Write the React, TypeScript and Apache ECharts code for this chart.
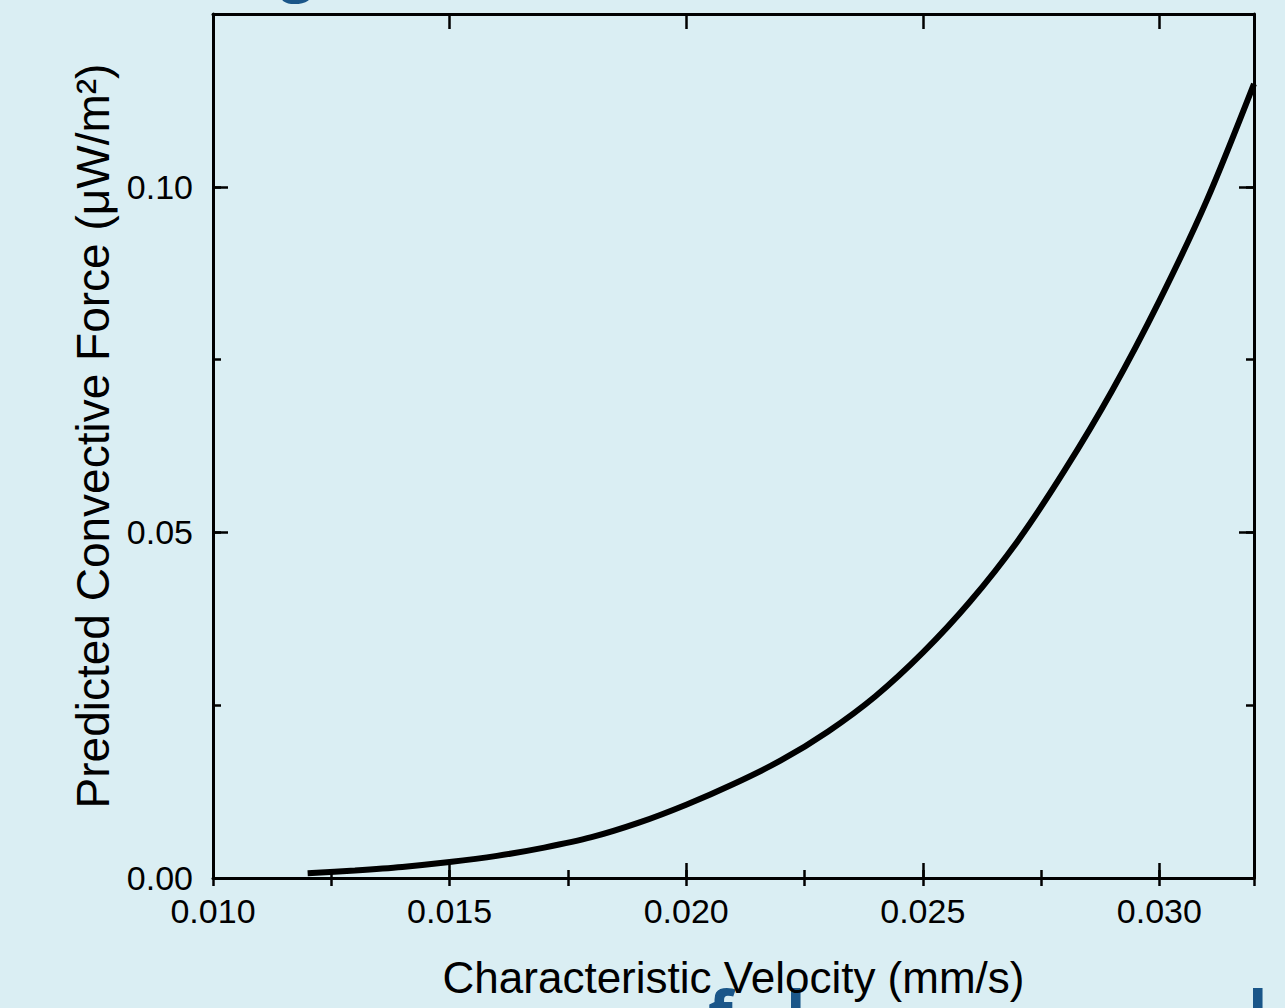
import React, { useEffect, useRef } from "react";
import * as echarts from "echarts";

// Characteristic velocity (mm/s)
const velocity = [
  0.012, 0.013, 0.014, 0.015, 0.016, 0.017, 0.018, 0.019, 0.020, 0.021, 0.022,
  0.023, 0.024, 0.025, 0.026, 0.027, 0.028, 0.029, 0.030, 0.031, 0.032,
];
// Predicted convective force (µW/m²)
const force = [
  0.0007, 0.0011, 0.0016, 0.0023, 0.0032, 0.0044, 0.0059, 0.0080, 0.0106,
  0.0136, 0.0170, 0.0212, 0.0263, 0.0326, 0.0400, 0.0487, 0.0590, 0.0705,
  0.0835, 0.0980, 0.1149,
];

const xTickValues = [0.01, 0.015, 0.02, 0.025, 0.03];
const xTickLabels = ["0.010", "0.015", "0.020", "0.025", "0.030"];
const yTickValues = [0, 0.05, 0.1];
const yTickLabels = ["0.00", "0.05", "0.10"];

const X_MIN = 0.01;
const X_MAX = 0.032;
const Y_MIN = 0;
const Y_MAX = 0.125;

const FONT = '"Liberation Sans", Arial, sans-serif';

function labelFor(values: number[], labels: string[]) {
  return (v: number) => {
    const i = values.findIndex((t) => Math.abs(t - v) < 1e-9);
    return i >= 0 ? labels[i] : "";
  };
}

export default function App() {
  const ref = useRef<HTMLDivElement>(null);

  useEffect(() => {
    if (!ref.current) return;
    const chart = echarts.init(ref.current, undefined, { renderer: "svg" });

    const frameLine = { show: true, onZero: false, lineStyle: { color: "#000", width: 3 } };
    const majorTick = { show: true, inside: true, length: 15, lineStyle: { color: "#000", width: 2.5 } };
    const minorTick = { show: true, inside: true, length: 8, lineStyle: { color: "#000", width: 2.5 } };

    const xBase = {
      type: "value" as const,
      gridIndex: 0,
      min: X_MIN,
      max: X_MAX,
      splitLine: { show: false },
    };
    const yBase = {
      type: "value" as const,
      gridIndex: 0,
      min: Y_MIN,
      max: Y_MAX,
      splitLine: { show: false },
    };

    chart.setOption({
      animation: false,
      backgroundColor: "#DAEEF3",
      grid: { left: 213, right: 31, top: 14, bottom: 130, containLabel: false },
      xAxis: [
        {
          ...xBase,
          position: "bottom",
          interval: 0.005,
          axisLine: frameLine,
          axisTick: majorTick,
          axisLabel: {
            show: true,
            color: "#000",
            fontSize: 34,
            fontFamily: FONT,
            margin: 16,
            formatter: labelFor(xTickValues, xTickLabels),
          },
          name: "Characteristic Velocity (mm/s)",
          nameLocation: "middle",
          nameGap: 77,
          nameTextStyle: { color: "#000", fontSize: 44, fontFamily: FONT },
        },
        {
          ...xBase,
          position: "bottom",
          interval: 0.0025,
          axisLine: { show: false },
          axisTick: minorTick,
          axisLabel: { show: false },
        },
        {
          ...xBase,
          position: "top",
          interval: 0.005,
          axisLine: frameLine,
          axisTick: majorTick,
          axisLabel: { show: false },
        },
        {
          ...xBase,
          position: "top",
          interval: 0.0025,
          axisLine: { show: false },
          axisTick: minorTick,
          axisLabel: { show: false },
        },
      ],
      yAxis: [
        {
          ...yBase,
          position: "left",
          interval: 0.05,
          axisLine: frameLine,
          axisTick: majorTick,
          axisLabel: {
            show: true,
            color: "#000",
            fontSize: 34,
            fontFamily: FONT,
            margin: 20,
            formatter: labelFor(yTickValues, yTickLabels),
          },
          name: "Predicted Convective Force (\u03bcW/m\u00b2)",
          nameLocation: "middle",
          nameGap: 96,
          nameTextStyle: {
            color: "#000",
            fontSize: 46,
            fontFamily: FONT,
            padding: [0, 0, 0, 20],
          },
        },
        {
          ...yBase,
          position: "left",
          interval: 0.025,
          axisLine: { show: false },
          axisTick: minorTick,
          axisLabel: { show: false },
        },
        {
          ...yBase,
          position: "right",
          interval: 0.05,
          axisLine: frameLine,
          axisTick: majorTick,
          axisLabel: { show: false },
        },
        {
          ...yBase,
          position: "right",
          interval: 0.025,
          axisLine: { show: false },
          axisTick: minorTick,
          axisLabel: { show: false },
        },
      ],
      graphic: [
        {
          type: "text",
          x: 280,
          y: -4,
          style: {
            text: "g",
            font: 'bold 60px "Open Sans", sans-serif',
            fill: "#1A5689",
            verticalAlign: "bottom",
          },
          silent: true,
        },
        {
          type: "text",
          x: 708,
          y: 980,
          style: { text: "f", font: 'bold 64px "Open Sans", sans-serif', fill: "#1A5689" },
          silent: true,
        },
        {
          type: "text",
          x: 786,
          y: 980,
          style: { text: "l", font: 'bold 64px "Open Sans", sans-serif', fill: "#1A5689" },
          silent: true,
        },
        {
          type: "text",
          x: 1248,
          y: 980,
          style: { text: "l", font: 'bold 64px "Open Sans", sans-serif', fill: "#1A5689" },
          silent: true,
        },
      ],
      series: [
        {
          type: "line",
          xAxisIndex: 0,
          yAxisIndex: 0,
          data: velocity.map((v, i) => [v, force[i]]),
          smooth: 0.3,
          showSymbol: false,
          lineStyle: { color: "#000", width: 6 },
          clip: false,
        },
      ],
    });

    return () => chart.dispose();
  }, []);

  return <div ref={ref} style={{ width: 1285, height: 1008, position: "absolute", left: 0, top: 0 }} />;
}
